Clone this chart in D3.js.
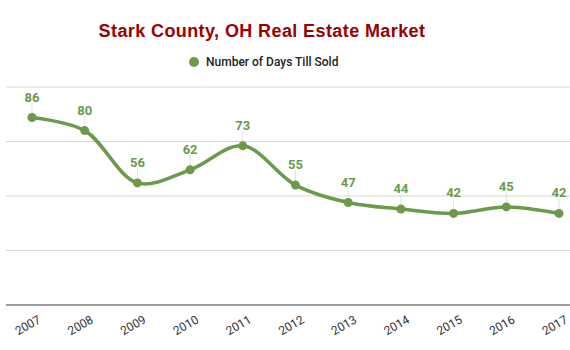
<!DOCTYPE html>
<html>
<head>
<meta charset="utf-8">
<script src="https://cdn.jsdelivr.net/npm/d3@7"></script>
<style>
  body { margin: 0; background: #fff; }
  svg { display: block; }
</style>
</head>
<body>
<svg id="chart" width="570" height="350"></svg>
<script>
const years = ["2007", "2008", "2009", "2010", "2011", "2012", "2013", "2014", "2015", "2016", "2017"];
const daysTillSold = [86, 80, 56, 62, 73, 55, 47, 44, 42, 45, 42];
const yTicks = [0, 25, 50, 75, 100];

const green = "#6a9a4a";
const svg = d3.select("#chart");
const width = 570, height = 350;

svg.append("rect").attr("width", width).attr("height", height).attr("fill", "#fff");

const x = d3.scalePoint().domain(years).range([32, 559]);
const y = d3.scaleLinear().domain([0, 100]).range([305, 87]);

// grid
svg.append("g")
    .selectAll("line")
    .data(yTicks.filter(d => d > 0))
    .join("line")
    .attr("x1", 6).attr("x2", 570)
    .attr("y1", d => y(d)).attr("y2", d => y(d))
    .attr("stroke", "#d9d9d9")
    .attr("stroke-width", 1);

// baseline axis
const xAxis = svg.append("g")
    .attr("transform", `translate(0,${y(0)})`)
    .call(d3.axisBottom(x).tickSize(0).tickPadding(0));
xAxis.select(".domain").remove();
xAxis.append("line")
    .attr("x1", 6).attr("x2", 570)
    .attr("stroke", "#9e9e9e").attr("stroke-width", 2);
xAxis.selectAll(".tick text")
    .attr("fill", "#333")
    .style("font-family", "Roboto, sans-serif")
    .style("font-size", "12px")
    .attr("text-anchor", "end")
    .attr("dy", null)
    .attr("transform", "translate(9,17) rotate(-30)");

// leader lines
svg.append("g")
    .selectAll("line")
    .data(daysTillSold)
    .join("line")
    .attr("x1", (d, i) => x(years[i]))
    .attr("x2", (d, i) => x(years[i]))
    .attr("y1", d => y(d) - 15)
    .attr("y2", d => y(d))
    .attr("stroke", "#e0e0e0")
    .attr("stroke-width", 1);

const line = d3.line()
    .x((d, i) => x(years[i]))
    .y(d => y(d))
    .curve(d3.curveCatmullRom.alpha(0.5));

svg.append("path")
    .datum(daysTillSold)
    .attr("d", line)
    .attr("fill", "none")
    .attr("stroke", green)
    .attr("stroke-width", 3.5)
    .attr("stroke-linejoin", "round");

svg.append("g")
    .selectAll("circle")
    .data(daysTillSold)
    .join("circle")
    .attr("cx", (d, i) => x(years[i]))
    .attr("cy", d => y(d))
    .attr("r", 4.5)
    .attr("fill", green);

svg.append("g")
    .selectAll("text")
    .data(daysTillSold)
    .join("text")
    .attr("x", (d, i) => x(years[i]))
    .attr("y", d => y(d) - 16)
    .attr("text-anchor", "middle")
    .attr("fill", green)
    .style("font-family", "Roboto, sans-serif")
    .style("font-size", "13px")
    .style("font-weight", "bold")
    .text(d => d);

// title
svg.append("text")
    .attr("x", 262)
    .attr("y", 37)
    .attr("text-anchor", "middle")
    .attr("fill", "#990000")
    .style("font-family", "'Liberation Sans', Arial, sans-serif")
    .style("font-size", "18px")
    .style("font-weight", "bold")
    .style("letter-spacing", "0.4px")
    .text("Stark County, OH Real Estate Market");

// legend
const legend = svg.append("g").attr("transform", "translate(194,62)");
legend.append("circle").attr("r", 5).attr("fill", green);
legend.append("text")
    .attr("x", 12)
    .attr("y", 4)
    .attr("fill", "#222")
    .style("font-family", "Roboto, sans-serif")
    .style("font-size", "12px")
    .style("font-weight", "500")
    .text("Number of Days Till Sold");
</script>
</body>
</html>
